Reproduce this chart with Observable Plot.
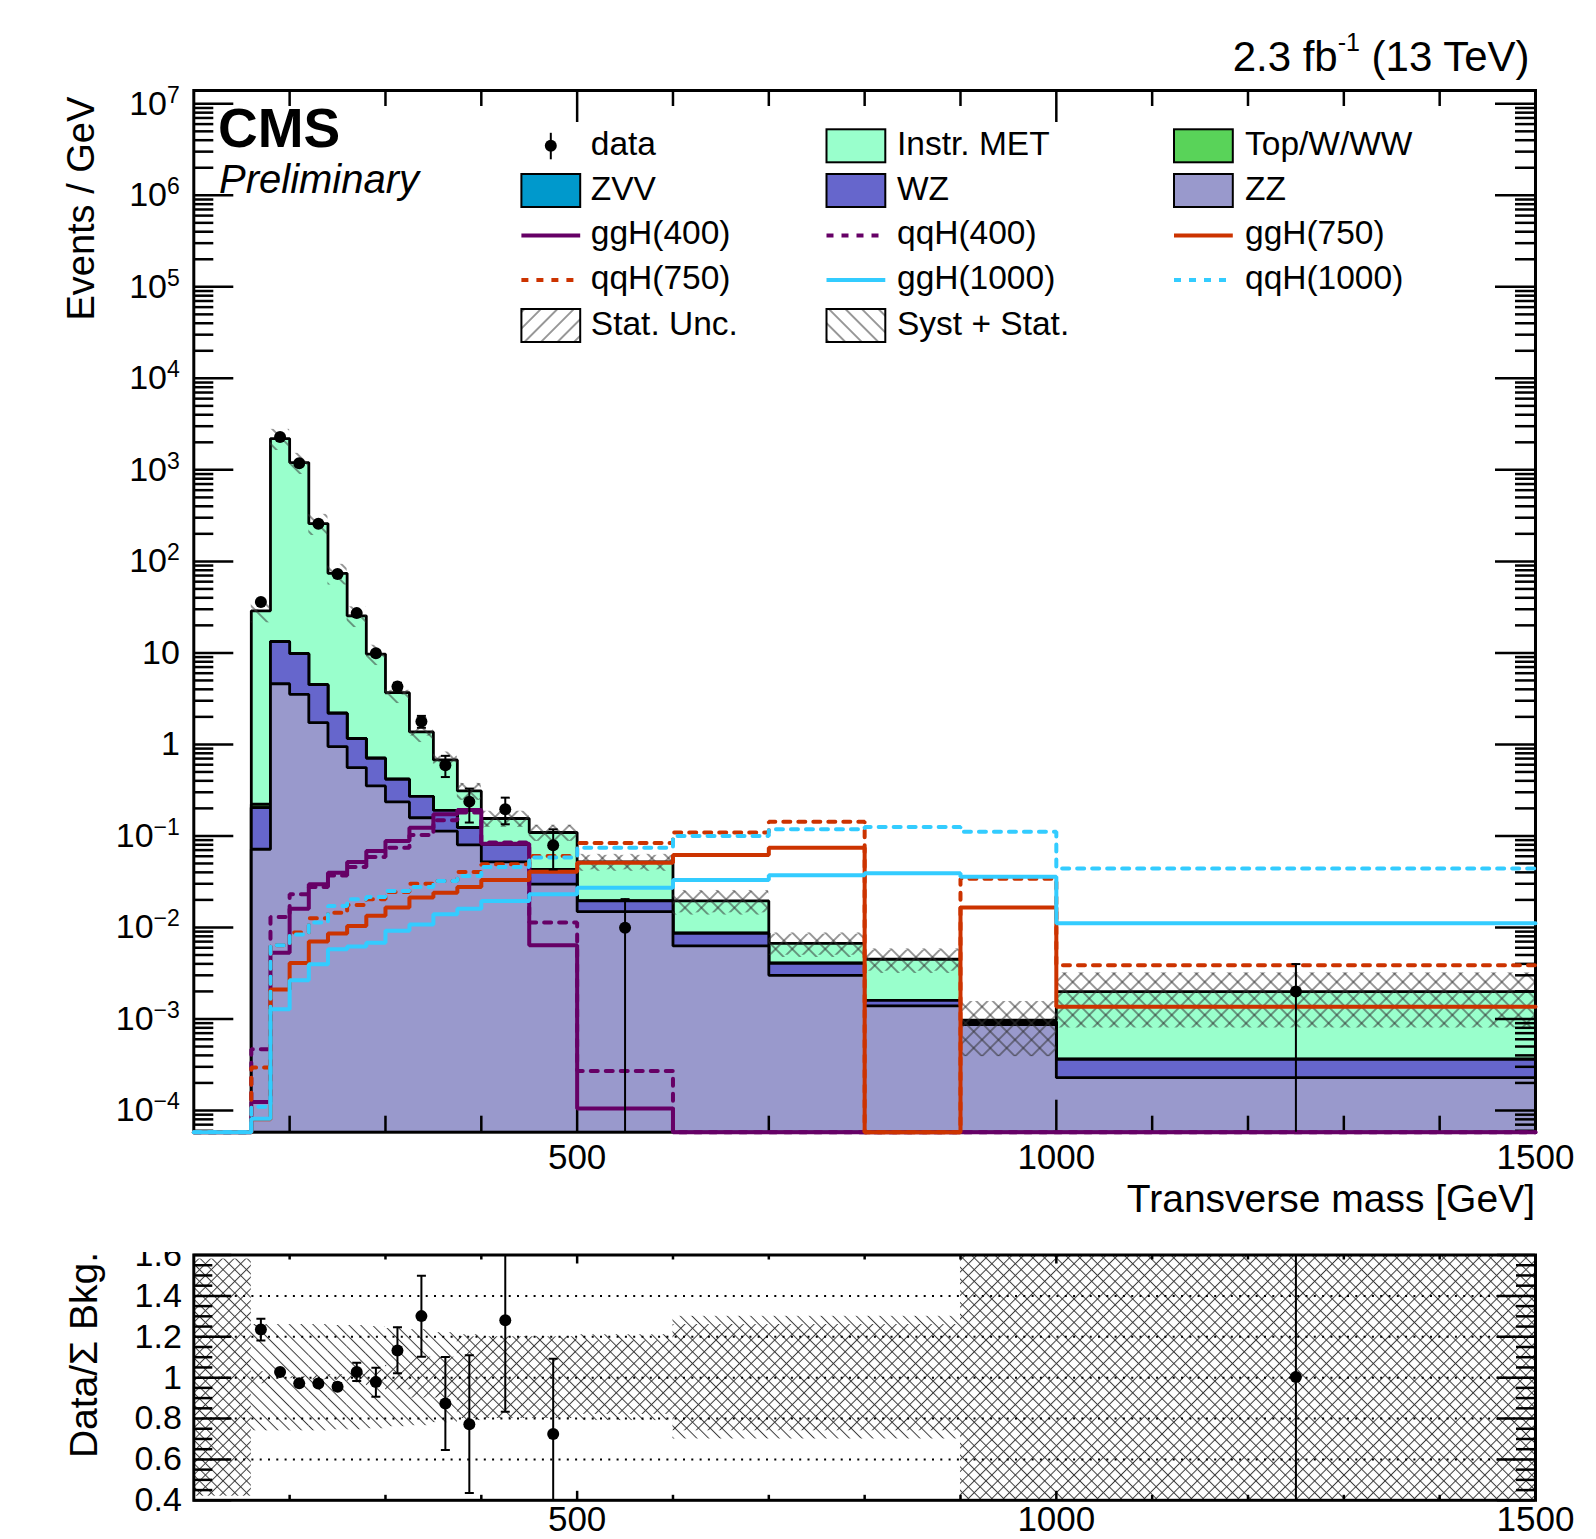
<!DOCTYPE html>
<html>
<head>
<meta charset="utf-8">
<script src="https://cdn.jsdelivr.net/npm/d3@7"></script>
<script src="https://cdn.jsdelivr.net/npm/@observablehq/plot@0.6"></script>
<style>
html,body{margin:0;padding:0;background:#fff;}
#wrap{position:relative;width:1596px;height:1539px;overflow:hidden;background:#fff;}
#wrap > svg{position:absolute;left:0;display:block;}
</style>
</head>
<body>
<div id="wrap"></div>
<script>
// ================= DATA =================
const edges = [100,160,180,200,220,240,260,280,300,325,350,375,400,450,500,600,700,800,900,1000,1500];

// background components, Events / GeV per bin
const zz     = [0,0.0715,4.6,3.53,1.73,0.946,0.558,0.352,0.235,0.158,0.113,0.080,0.052,0.0297,0.0149,0.00628,0.0030,0.00139,0.00087,0.000228];
const wz     = [0,0.1325,8.7,6.27,2.77,1.244,0.602,0.354,0.181,0.112,0.077,0.043,0.029,0.0133,0.0046,0.00236,0.00106,0.00021,0.00006,0.000135];
const zvv    = [0,0,0,0,0,0,0,0,0,0,0,0,0,0,0,0,0,0,0,0];
const topww  = [0,0.018,0,0,0,0,0,0,0,0,0,0,0,0,0,0,0,0,0,0];
const instr  = [0,28.58,2184.7,1192.2,254.5,71.81,24.24,8.994,3.264,1.10,0.487,0.187,0.074,0.066,0.0325,0.01086,0.00265,0.00289,0.00004,0.00163];

// signals
const ggH400  = [0,1.24e-4,0.0053,0.016,0.0297,0.0397,0.052,0.0686,0.088,0.123,0.173,0.192,0.082,0.0064,1.05e-4,0,0,0,0,0];
const qqH400  = [0,4.67e-4,0.013,0.023,0.0277,0.037,0.0458,0.059,0.0745,0.1025,0.148,0.18,0.0845,0.0113,2.7e-4,0,0,0,0,0];
const ggH750  = [0,8e-5,0.0021,0.0041,0.0070,0.0086,0.0104,0.0134,0.0165,0.0212,0.024,0.0277,0.033,0.0407,0.051,0.062,0.0745,0,0.0165,0.00136];
const qqH750  = [0,2.95e-4,0.0064,0.0088,0.0126,0.0145,0.0176,0.0203,0.0244,0.030,0.0322,0.0404,0.049,0.0604,0.0838,0.1087,0.143,0,0.034,0.00386];
const ggH1000 = [0,8.1e-5,0.00128,0.00265,0.00396,0.00578,0.0062,0.0068,0.0092,0.0108,0.0139,0.016,0.0195,0.023,0.0272,0.033,0.0372,0.039,0.0359,0.0111];
const qqH1000 = [0,1.1e-4,0.0064,0.0084,0.0113,0.0172,0.0203,0.0215,0.025,0.0277,0.0322,0.0366,0.0458,0.058,0.0745,0.100,0.118,0.125,0.111,0.044];

// relative uncertainties per bin
const systRel = [0.58,0.26,0.26,0.26,0.26,0.255,0.255,0.25,0.24,0.235,0.22,0.21,0.2,0.2,0.21,0.3,0.3,0.3,0.6,0.6];
const statRel = [0.58,0.03,0.005,0.005,0.01,0.015,0.025,0.04,0.06,0.1,0.1,0.2,0.2,0.2,0.18,0.26,0.26,0.26,0.6,0.6];

// data
const dataX  = [170,190,210,230,250,270,290,312.5,337.5,362.5,387.5,425,475,550,1250];
const dataY  = [36,2290,1183,257,73,27.2,9.9,4.28,1.78,0.593,0.237,0.196,0.079,0.0099,0.0020];
const dataLo = [34.4,2265,1166,249,71.4,25.9,9.2,3.87,1.52,0.44,0.14,0.134,0.043,0,0];
const dataHi = [37.6,2315,1200,265,74.6,28.5,10.6,4.72,2.05,0.75,0.329,0.262,0.118,0.0204,0.00398];

// ratio panel
const ratioX  = [170,190,210,230,250,270,290,312.5,337.5,362.5,387.5,425,475,1250];
const ratioY  = [1.236,1.028,0.972,0.971,0.956,1.028,0.979,1.133,1.301,0.873,0.772,1.281,0.724,1.003];
const ratioLo = [1.182,1.020,0.964,0.961,0.940,0.984,0.906,1.021,1.102,0.646,0.436,0.833,0.30,0.0];
const ratioHi = [1.288,1.036,0.980,0.981,0.972,1.073,1.049,1.247,1.499,1.101,1.109,1.90,1.093,2.5];

// ticks & labels
const xMajorTicks = [500,1000];
const xMinorTicks = [200,300,400,600,700,800,900,1100,1200,1300,1400];
const xTickLabels = [500,1000,1500];
const decades = [-4,-3,-2,-1,0,1,2,3,4,5,6,7];
const ratioMajor = [0.4,0.6,0.8,1.0,1.2,1.4,1.6];
const ratioGrid = [0.6,0.8,1.0,1.2,1.4];

const legendLabels = ["data","Instr. MET","Top/W/WW","ZVV","WZ","ZZ","ggH(400)","qqH(400)","ggH(750)","qqH(750)","ggH(1000)","qqH(1000)","Stat. Unc.","Syst + Stat."];

// ================= STYLE / LAYOUT =================
const FONT = "'Liberation Sans', Arial, Helvetica, sans-serif";
const C = {instr:"#99ffcc", top:"#59d359", zvv:"#0099cc", wz:"#6666cc", zz:"#9999cc",
           p:"#660066", r:"#cc3300", c:"#33ccff"};
const W = 1596, FL = 193.3, FR = 1535;
const H1 = 1240, T1 = 90, B1 = 1131.7;
const yMin = 5.79e-5, yMax = 1.397e7;
const frameW = FR - FL, FH1 = B1 - T1;
const R_TOP = 1251.5, H2 = 1539 - R_TOP, T2 = 1254 - R_TOP, B2 = 1499.3 - R_TOP;
const FH2 = B2 - T2;
const DASH = "7,8";
const SIGW = 4;

const nb = edges.length - 1;
const bins = d3.range(nb).map(i => ({i, x1: edges[i], x2: edges[i+1]}));
const cum = (...arrs) => d3.range(nb).map(i => d3.sum(arrs, a => a[i]));
const zzTop = cum(zz), wzTop = cum(zz, wz), zvvTop = cum(zz, wz, zvv),
      topTop = cum(zz, wz, zvv, topww), total = cum(zz, wz, zvv, topww, instr);
const cl = v => Math.max(v, yMin);
function steps(vals) {
  const pts = [];
  vals.forEach((v, i) => { pts.push({x: edges[i], y: cl(v)}); pts.push({x: edges[i+1], y: cl(v)}); });
  return pts;
}
const capSymbol = {draw(ctx, size) { const r = Math.sqrt(size / Math.PI); ctx.moveTo(-r, 0); ctx.lineTo(r, 0); }};

// ================= MAIN PANEL =================
const layers = [
  {v: total, fill: C.instr}, {v: topTop, fill: C.top}, {v: zvvTop, fill: C.zvv},
  {v: wzTop, fill: C.wz}, {v: zzTop, fill: C.zz}
];
const mainMarks = [];
layers.forEach(L => {
  mainMarks.push(Plot.areaY(steps(L.v), {x: "x", y1: () => yMin, y2: "y", fill: L.fill}));
  mainMarks.push(Plot.line(steps(L.v), {x: "x", y: "y", stroke: "black", strokeWidth: 2.8, strokeLinejoin: "miter"}));
});
const bandBins = bins.filter(d => total[d.i] > 0);
mainMarks.push(Plot.rectY(bandBins, {x1: "x1", x2: "x2", y1: d => total[d.i] * (1 - systRel[d.i]), y2: d => total[d.i] * (1 + systRel[d.i]), fill: "url(#mHB)", clip: true}));
mainMarks.push(Plot.rectY(bandBins, {x1: "x1", x2: "x2", y1: d => total[d.i] * (1 - statRel[d.i]), y2: d => total[d.i] * (1 + statRel[d.i]), fill: "url(#mHF)", clip: true}));
mainMarks.push(Plot.frame({stroke: "black", strokeWidth: 3}));
// ticks
const yMinor = [];
for (let e = -5; e <= 7; e++) for (let k = 2; k <= 9; k++) { const v = k * Math.pow(10, e); if (v > yMin && v < yMax) yMinor.push(v); }
const yMajor = decades.map(e => Math.pow(10, e));
const tk = {stroke: "black", strokeWidth: 2.5};
mainMarks.push(Plot.tickX(xMinorTicks, {x: d => d, insetTop: FH1 - 16, ...tk}));
mainMarks.push(Plot.tickX(xMinorTicks, {x: d => d, insetBottom: FH1 - 16, ...tk}));
mainMarks.push(Plot.tickX(xMajorTicks, {x: d => d, insetTop: FH1 - 32, ...tk}));
mainMarks.push(Plot.tickX(xMajorTicks, {x: d => d, insetBottom: FH1 - 32, ...tk}));
mainMarks.push(Plot.tickY(yMinor, {y: d => d, insetRight: frameW - 20, ...tk}));
mainMarks.push(Plot.tickY(yMinor, {y: d => d, insetLeft: frameW - 20, ...tk}));
mainMarks.push(Plot.tickY(yMajor, {y: d => d, insetRight: frameW - 40, ...tk}));
mainMarks.push(Plot.tickY(yMajor, {y: d => d, insetLeft: frameW - 40, ...tk}));
// signals
const sig = [
  {v: qqH400, stroke: C.p, dash: DASH}, {v: ggH400, stroke: C.p},
  {v: qqH750, stroke: C.r, dash: DASH}, {v: ggH750, stroke: C.r},
  {v: qqH1000, stroke: C.c, dash: DASH}, {v: ggH1000, stroke: C.c}
];
sig.forEach(s => mainMarks.push(Plot.line(steps(s.v), {x: "x", y: "y", stroke: s.stroke, strokeWidth: SIGW, strokeDasharray: s.dash, strokeLinejoin: "miter"})));
// data
const dpts = dataX.map((x, i) => ({x, y: dataY[i], lo: dataLo[i], hi: dataHi[i]}));
mainMarks.push(Plot.ruleX(dpts, {x: "x", y1: d => d.lo > 0 ? d.lo : yMin, y2: "hi", stroke: "black", strokeWidth: 2}));
mainMarks.push(Plot.dot(dpts.filter(d => d.lo > 0), {x: "x", y: "lo", symbol: capSymbol, r: 4.5, fill: "none", stroke: "black", strokeWidth: 2}));
mainMarks.push(Plot.dot(dpts, {x: "x", y: "hi", symbol: capSymbol, r: 4.5, fill: "none", stroke: "black", strokeWidth: 2}));
mainMarks.push(Plot.dot(dpts, {x: "x", y: "y", r: 6, fill: "black"}));
// tick labels
mainMarks.push(Plot.text(xTickLabels, {x: d => d, text: d => String(d), frameAnchor: "bottom", dy: 26, lineAnchor: "middle", fontSize: 35, fontFamily: FONT, fill: "black"}));
const decLabel = e => e === 0 ? "1" : e === 1 ? "10" : "10^" + (e < 0 ? "\u2212" + (-e) : String(e));
mainMarks.push(Plot.text(decades, {y: e => Math.pow(10, e), text: decLabel, frameAnchor: "left", dx: -14, textAnchor: "end", lineAnchor: "middle", fontSize: 34, fontFamily: FONT, fill: "black"}));

const main = Plot.plot({
  width: W, height: H1,
  marginLeft: FL, marginRight: W - FR, marginTop: T1, marginBottom: H1 - B1,
  x: {domain: [100, 1500], axis: null},
  y: {type: "log", domain: [yMin, yMax], axis: null},
  style: {fontFamily: FONT, background: "white", color: "black"},
  marks: mainMarks
});
main.style.top = "0px";

// ================= RATIO PANEL =================
const rMarks = [];
rMarks.push(Plot.rectY(bins, {x1: "x1", x2: "x2", y1: d => 1 - systRel[d.i], y2: d => 1 + systRel[d.i], fill: "url(#rHB)", clip: true}));
rMarks.push(Plot.rectY(bins, {x1: "x1", x2: "x2", y1: d => 1 - statRel[d.i], y2: d => 1 + statRel[d.i], fill: "url(#rHF)", clip: true}));
rMarks.push(Plot.ruleY(ratioGrid, {y: d => d, stroke: "black", strokeWidth: 2, strokeDasharray: "2,6.3"}));
const rMinor = d3.range(0.45, 1.6, 0.05).map(v => +v.toFixed(2)).filter(v => Math.abs(v * 10 - Math.round(v * 10)) > 0.01 || Math.round(v * 10) % 2 === 1);
rMarks.push(Plot.tickY(rMinor, {y: d => d, insetRight: frameW - 19, ...tk}));
rMarks.push(Plot.tickY(rMinor, {y: d => d, insetLeft: frameW - 19, ...tk}));
rMarks.push(Plot.tickY(ratioMajor, {y: d => d, insetRight: frameW - 38, ...tk}));
rMarks.push(Plot.tickY(ratioMajor, {y: d => d, insetLeft: frameW - 38, ...tk}));
rMarks.push(Plot.tickX(xMinorTicks, {x: d => d, insetTop: FH2 - 5, ...tk}));
rMarks.push(Plot.tickX(xMinorTicks, {x: d => d, insetBottom: FH2 - 5, ...tk}));
rMarks.push(Plot.tickX(xMajorTicks, {x: d => d, insetTop: FH2 - 9, ...tk}));
rMarks.push(Plot.tickX(xMajorTicks, {x: d => d, insetBottom: FH2 - 9, ...tk}));
const rpts = ratioX.map((x, i) => ({x, y: ratioY[i], lo: ratioLo[i], hi: ratioHi[i]}));
rMarks.push(Plot.ruleX(rpts, {x: "x", y1: "lo", y2: "hi", stroke: "black", strokeWidth: 2, clip: true}));
rMarks.push(Plot.dot(rpts, {x: "x", y: "lo", symbol: capSymbol, r: 4.5, fill: "none", stroke: "black", strokeWidth: 2, clip: true}));
rMarks.push(Plot.dot(rpts, {x: "x", y: "hi", symbol: capSymbol, r: 4.5, fill: "none", stroke: "black", strokeWidth: 2, clip: true}));
rMarks.push(Plot.dot(rpts, {x: "x", y: "y", r: 6, fill: "black"}));
rMarks.push(Plot.frame({stroke: "black", strokeWidth: 3}));
rMarks.push(Plot.text(xTickLabels, {x: d => d, text: d => String(d), frameAnchor: "bottom", dy: 19, lineAnchor: "middle", fontSize: 35, fontFamily: FONT, fill: "black"}));
rMarks.push(Plot.text(ratioMajor, {y: d => d, text: d => d === 1 ? "1" : d.toFixed(1), frameAnchor: "left", dx: -12, textAnchor: "end", lineAnchor: "middle", fontSize: 34, fontFamily: FONT, fill: "black"}));

const ratio = Plot.plot({
  width: W, height: H2,
  marginLeft: FL, marginRight: W - FR, marginTop: T2, marginBottom: H2 - B2,
  x: {domain: [100, 1500], axis: null},
  y: {domain: [0.4, 1.6], axis: null},
  style: {fontFamily: FONT, background: "white", color: "black"},
  marks: rMarks
});
ratio.style.top = R_TOP + "px";

const wrap = document.getElementById("wrap");
wrap.appendChild(main);
wrap.appendChild(ratio);

// ================= patterns =================
function addPatterns(svgEl, prefix, spacing, sw, col) {
  const defs = d3.select(svgEl).insert("defs", ":first-child");
  [["HF", 45], ["HB", -45]].forEach(([name, ang]) => {
    const p = defs.append("pattern").attr("id", prefix + name).attr("patternUnits", "userSpaceOnUse")
      .attr("width", spacing).attr("height", spacing).attr("patternTransform", `rotate(${ang})`);
    p.append("line").attr("x1", spacing / 2).attr("x2", spacing / 2).attr("y1", -1).attr("y2", spacing + 1)
      .attr("stroke", col).attr("stroke-width", sw);
  });
}
addPatterns(main, "m", 11.67, 1, "#333");
addPatterns(ratio, "r", 8.3, 1, "#3a3a3a");

// ================= superscripts =================
const NS = "http://www.w3.org/2000/svg";
function supify(svgEl, supSize, raise) {
  svgEl.querySelectorAll("text").forEach(t => {
    const s = t.textContent;
    if (!s.includes("^")) return;
    const [b, e] = s.split("^");
    while (t.firstChild) t.removeChild(t.firstChild);
    const t1 = document.createElementNS(NS, "tspan"); t1.textContent = b; t.appendChild(t1);
    const t2 = document.createElementNS(NS, "tspan"); t2.textContent = e;
    t2.setAttribute("font-size", supSize); t2.setAttribute("dy", -raise); t.appendChild(t2);
  });
}
supify(main, 23, 12);

// ================= annotations =================
const ms = d3.select(main);
const g = ms.append("g").attr("font-family", FONT).attr("fill", "black").attr("text-anchor", "start");
g.append("text").attr("x", 218).attr("y", 146.7).attr("font-size", 55).attr("font-weight", "bold").attr("text-anchor", "start").text("CMS");
g.append("text").attr("x", 219).attr("y", 193.3).attr("font-size", 40).attr("font-style", "italic").attr("text-anchor", "start").text("Preliminary");
const lumi = g.append("text").attr("x", 1529.6).attr("y", 70.7).attr("font-size", 42).attr("text-anchor", "end");
lumi.append("tspan").text("2.3 fb");
lumi.append("tspan").attr("font-size", 25).attr("dy", -20).text("-1");
lumi.append("tspan").attr("dy", 20).text(" (13 TeV)");
g.append("text").attr("x", FR).attr("y", 1212).attr("font-size", 39).attr("text-anchor", "end").text("Transverse mass [GeV]");
g.append("text").attr("transform", "translate(93.6,96.7) rotate(-90)").attr("font-size", 38).attr("text-anchor", "end").text("Events / GeV");

d3.select(ratio).append("text").attr("font-family", FONT).attr("fill", "black").attr("text-anchor", "start")
  .attr("transform", `translate(97,${1457.6 - R_TOP}) rotate(-90)`).attr("font-size", 39).text("Data/\u03A3 Bkg.");

// ================= legend =================
const legColsX = [521.4, 826.5, 1174], legTextX = [590.8, 897, 1245], legRowsY = [145.8, 190.5, 235.4, 280, 325.5];
const boxW = 58.8, boxH = 33;
const legendStyles = [
  {kind: "data"}, {kind: "box", fill: C.instr}, {kind: "box", fill: C.top},
  {kind: "box", fill: C.zvv}, {kind: "box", fill: C.wz}, {kind: "box", fill: C.zz},
  {kind: "line", stroke: C.p}, {kind: "line", stroke: C.p, dash: DASH}, {kind: "line", stroke: C.r},
  {kind: "line", stroke: C.r, dash: DASH}, {kind: "line", stroke: C.c}, {kind: "line", stroke: C.c, dash: DASH},
  {kind: "box", fill: "url(#mHF)"}, {kind: "box", fill: "url(#mHB)"}
];
const lg = ms.append("g").attr("font-family", FONT).attr("text-anchor", "start");
legendLabels.forEach((label, k) => {
  const col = k % 3, row = Math.floor(k / 3);
  const x0 = legColsX[col], yc = legRowsY[row], st = legendStyles[k];
  if (st.kind === "box") {
    lg.append("rect").attr("x", x0).attr("y", yc - boxH / 2).attr("width", boxW).attr("height", boxH)
      .attr("fill", st.fill).attr("stroke", "black").attr("stroke-width", 2);
  } else if (st.kind === "line") {
    lg.append("line").attr("x1", x0).attr("x2", x0 + boxW).attr("y1", yc).attr("y2", yc)
      .attr("stroke", st.stroke).attr("stroke-width", SIGW).attr("stroke-dasharray", st.dash || null);
  } else {
    const xc = x0 + boxW / 2;
    lg.append("line").attr("x1", xc).attr("x2", xc).attr("y1", yc - 13).attr("y2", yc + 13.5).attr("stroke", "black").attr("stroke-width", 2);
    lg.append("circle").attr("cx", xc).attr("cy", yc).attr("r", 6).attr("fill", "black");
  }
  lg.append("text").attr("x", legTextX[col]).attr("y", yc + 9).attr("font-size", 33.5).attr("fill", "black").attr("text-anchor", "start").text(label);
});
</script>
</body>
</html>
